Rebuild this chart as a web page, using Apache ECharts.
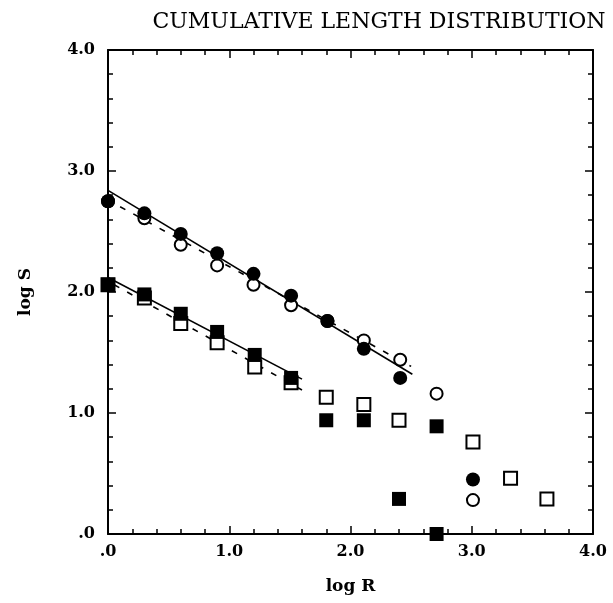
<!DOCTYPE html>
<html>
<head>
<meta charset="utf-8">
<script src="https://cdn.jsdelivr.net/npm/echarts@6/dist/echarts.min.js"></script>
<style>
html,body{margin:0;padding:0;background:#fff;}
#c{width:613px;height:603px;}
</style>
</head>
<body>
<div id="c"></div>
<script>
// ---- data (log R, log S) ----
var filledCircles = [[0.00,2.75],[0.30,2.65],[0.60,2.48],[0.90,2.32],[1.20,2.15],[1.51,1.97],[1.81,1.76],[2.11,1.53],[2.41,1.29],[3.01,0.45]];
var openCircles   = [[0.00,2.75],[0.30,2.61],[0.60,2.39],[0.90,2.22],[1.20,2.06],[1.51,1.89],[1.81,1.76],[2.11,1.60],[2.41,1.44],[2.71,1.16],[3.01,0.28]];
var filledSquares = [[0.00,2.06],[0.30,1.98],[0.60,1.82],[0.90,1.67],[1.21,1.48],[1.51,1.29],[1.80,0.94],[2.11,0.94],[2.40,0.29],[2.71,0.89],[2.71,0.00]];
var openSquares   = [[0.00,2.06],[0.30,1.95],[0.60,1.74],[0.90,1.58],[1.21,1.38],[1.51,1.25],[1.80,1.13],[2.11,1.07],[2.40,0.94],[3.01,0.76],[3.32,0.46],[3.62,0.29]];
// fitted lines (end points)
var circleFitSolid  = [[0.00,2.84],[2.51,1.32]];
var circleFitDashed = [[0.10,2.705],[2.50,1.385]];
var squareFitSolid  = [[0.00,2.12],[1.60,1.28]];
var squareFitDashed = [[0.05,2.06],[1.60,1.19]];
var xTicks = [0,1,2,3,4];
var yTicks = [0,1,2,3,4];

var FONT = '"DejaVu Serif", "Liberation Serif", serif';
function fmt(v){ return v === 0 ? '.0' : v.toFixed(1); }

var chart = echarts.init(document.getElementById('c'), null, {renderer:'canvas'});
function axisCommon(extra){
  var base = {
    min: xTicks[0], max: xTicks[xTicks.length-1], interval: 1,
    axisLine:{show:true, onZero:false, lineStyle:{color:'#000', width:2}},
    axisTick:{show:true, inside:true, length:8, lineStyle:{color:'#000', width:1.5}},
    minorTick:{show:true, splitNumber:5, length:5, lineStyle:{color:'#000', width:1.5}},
    splitLine:{show:false},
    axisLabel:{show:false}
  };
  for (var k in extra) base[k] = extra[k];
  return base;
}
var option = {
  backgroundColor:'#fff',
  animation:false,
  title:{
    text:'CUMULATIVE LENGTH DISTRIBUTION',
    left: 374, top: 6, textAlign:'center',
    textStyle:{fontFamily:FONT, fontSize:22, fontWeight:'normal', color:'#000'}
  },
  grid:{left:108, right:20, top:50, bottom:69, containLabel:false},
  xAxis:[
    axisCommon({type:'value', position:'bottom',
      axisLabel:{show:true, formatter:fmt, margin:10, color:'#000', fontFamily:FONT, fontSize:16, fontWeight:'bold'},
      name:'log R', nameLocation:'middle', nameGap:44,
      nameTextStyle:{fontFamily:FONT, fontSize:17, fontWeight:'bold', color:'#000'}}),
    axisCommon({type:'value', position:'top'})
  ],
  yAxis:[
    axisCommon({type:'value', position:'left', min:yTicks[0], max:yTicks[yTicks.length-1],
      axisLabel:{show:true, formatter:fmt, margin:13, color:'#000', fontFamily:FONT, fontSize:16, fontWeight:'bold'},
      name:'log S', nameLocation:'middle', nameGap:74, nameRotate:90,
      nameTextStyle:{fontFamily:FONT, fontSize:17, fontWeight:'bold', color:'#000'}}),
    axisCommon({type:'value', position:'right', min:yTicks[0], max:yTicks[yTicks.length-1]})
  ],
  series:[
    {type:'line', data:circleFitSolid, symbol:'none', lineStyle:{color:'#000', width:1.6}, z:2},
    {type:'line', data:circleFitDashed, symbol:'none', lineStyle:{color:'#000', width:1.6, type:[6,9]}, z:2},
    {type:'line', data:squareFitSolid, symbol:'none', lineStyle:{color:'#000', width:1.6}, z:2},
    {type:'line', data:squareFitDashed, symbol:'none', lineStyle:{color:'#000', width:1.6, type:[6,9]}, z:2},
    {type:'scatter', data:openCircles, symbol:'circle', symbolSize:12,
      itemStyle:{color:'#fff', borderColor:'#000', borderWidth:2, opacity:1}, z:3},
    {type:'scatter', data:openSquares, symbol:'rect', symbolSize:13,
      itemStyle:{color:'#fff', borderColor:'#000', borderWidth:2, opacity:1}, z:3},
    {type:'scatter', data:filledCircles, symbol:'circle', symbolSize:14,
      itemStyle:{color:'#000', opacity:1}, z:4},
    {type:'scatter', data:filledSquares, symbol:'rect', symbolSize:14,
      itemStyle:{color:'#000', opacity:1}, z:4}
  ]
};
chart.setOption(option);
</script>
</body>
</html>
